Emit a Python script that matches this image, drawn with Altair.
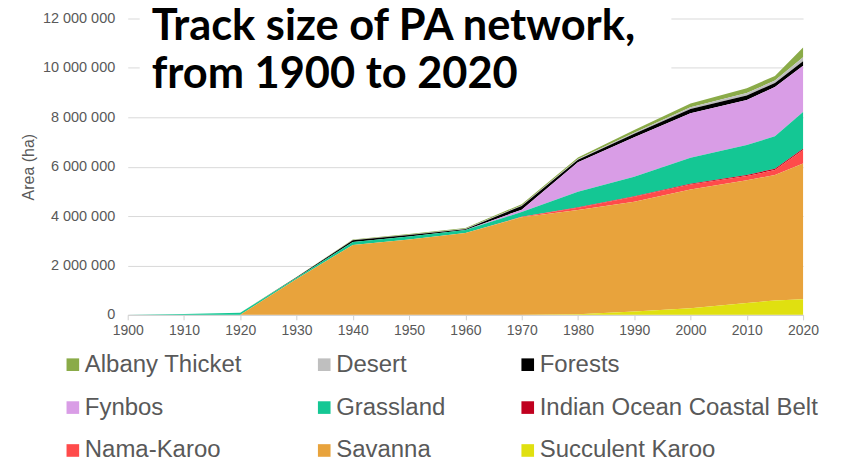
import altair as alt
import pandas as pd

# ---- data (hectares) ----
years = [1900, 1910, 1920, 1930, 1940, 1950, 1960, 1970, 1980, 1990, 2000, 2010, 2015, 2020]

# legend order
biomes = ["Albany Thicket", "Desert", "Forests",
          "Fynbos", "Grassland", "Indian Ocean Coastal Belt",
          "Nama-Karoo", "Savanna", "Succulent Karoo"]
colors = ["#8aab48", "#bfbfbf", "#000000",
          "#d99de6", "#14c794", "#c0001f",
          "#ff4b4b", "#e8a33c", "#e0e010"]

albany_thicket = [0, 0, 0, 10000, 20000, 30000, 30000, 50000, 60000, 120000, 150000, 200000, 180000, 400000]
desert = [0, 0, 0, 0, 10000, 10000, 20000, 20000, 30000, 40000, 70000, 100000, 100000, 160000]
forests = [0, 0, 0, 20000, 70000, 60000, 40000, 150000, 100000, 140000, 180000, 180000, 160000, 180000]
fynbos = [0, 0, 0, 0, 0, 0, 0, 100000, 1200000, 1600000, 1800000, 1820000, 2000000, 1880000]
grassland = [0, 30000, 80000, 50000, 120000, 120000, 120000, 190000, 620000, 790000, 1050000, 1220000, 1310000, 1480000]
iocb = [0, 0, 0, 0, 0, 0, 0, 0, 20000, 20000, 30000, 40000, 60000, 50000]
nama_karoo = [0, 0, 0, 0, 0, 0, 0, 20000, 100000, 200000, 200000, 170000, 200000, 550000]
savanna = [0, 0, 0, 1450000, 2830000, 3050000, 3310000, 3950000, 4220000, 4450000, 4810000, 4970000, 5080000, 5500000]
succulent_karoo = [0, 0, 0, 0, 0, 0, 0, 0, 20000, 130000, 270000, 480000, 580000, 630000]

series = {
    "Albany Thicket": albany_thicket,
    "Desert": desert,
    "Forests": forests,
    "Fynbos": fynbos,
    "Grassland": grassland,
    "Indian Ocean Coastal Belt": iocb,
    "Nama-Karoo": nama_karoo,
    "Savanna": savanna,
    "Succulent Karoo": succulent_karoo,
}
# stacking order, bottom first
stack_order = ["Succulent Karoo", "Savanna", "Nama-Karoo", "Indian Ocean Coastal Belt",
               "Grassland", "Fynbos", "Forests", "Desert", "Albany Thicket"]

rows = []
for name, vals in series.items():
    for yr, v in zip(years, vals):
        rows.append({"year": yr, "biome": name, "area": v, "rank": stack_order.index(name)})
df = pd.DataFrame(rows)

y_ticks = [0, 2000000, 4000000, 6000000, 8000000, 10000000, 12000000]
x_ticks = list(range(1900, 2021, 10))

grey = "#595959"

areas = alt.Chart(df).mark_area().encode(
    x=alt.X("year:Q",
            scale=alt.Scale(domain=[1900, 2020], nice=False, zero=False),
            axis=alt.Axis(values=x_ticks, format="d", title=None, grid=False,
                          labelFont="Liberation Sans", labelFontSize=14, labelColor=grey,
                          labelFlush=False, labelOverlap=False,
                          domainColor="#d0d0d0", tickColor="#d0d0d0", tickSize=5,
                          labelPadding=4)),
    y=alt.Y("area:Q", stack="zero",
            scale=alt.Scale(domain=[0, 12000000], nice=False),
            axis=alt.Axis(values=y_ticks, title="Area (ha)",
                          labelExpr="replace(format(datum.value, ','), regexp(',', 'g'), ' ')",
                          grid=True, gridColor="#d9d9d9", domain=False, ticks=False,
                          labelFont="Liberation Sans", labelFontSize=14.5, labelColor=grey,
                          labelPadding=13,
                          titleFont="Liberation Sans", titleFontSize=16,
                          titleFontWeight="normal", titleColor=grey, titlePadding=6)),
    color=alt.Color("biome:N",
                    scale=alt.Scale(domain=biomes, range=colors),
                    legend=alt.Legend(orient="none", legendX=-67, legendY=335,
                                      direction="horizontal",
                                      columns=3, title=None, padding=0,
                                      labelFont="Liberation Sans", labelFontSize=24,
                                      labelColor=grey, labelLimit=400, labelOffset=0,
                                      symbolType="square", symbolSize=160,
                                      symbolStrokeWidth=0, columnPadding=70,
                                      rowPadding=19, gridAlign="each")),
    order=alt.Order("rank:Q", sort="ascending"),
)

mask = alt.Chart(alt.Data(values=[{}])).mark_rect(color="white").encode(
    x=alt.value(12), x2=alt.value(545), y=alt.value(-12), y2=alt.value(60)
)

title = alt.Chart(alt.Data(values=[{}])).mark_text(
    text=["Track size of PA network,", "from 1900 to 2020"],
    font="Lato", fontWeight="bold", fontSize=43.5, lineHeight=48,
    align="left", baseline="alphabetic", color="black"
).encode(x=alt.value(24), y=alt.value(22))

chart = alt.layer(mask, areas, title).properties(
    width=677, height=297,
    padding={"left": 120, "top": 10, "right": 30, "bottom": 148},
    autosize="none",
).configure_view(stroke=None)

chart.save("out.html", embed_options={"renderer": "svg", "actions": False})
